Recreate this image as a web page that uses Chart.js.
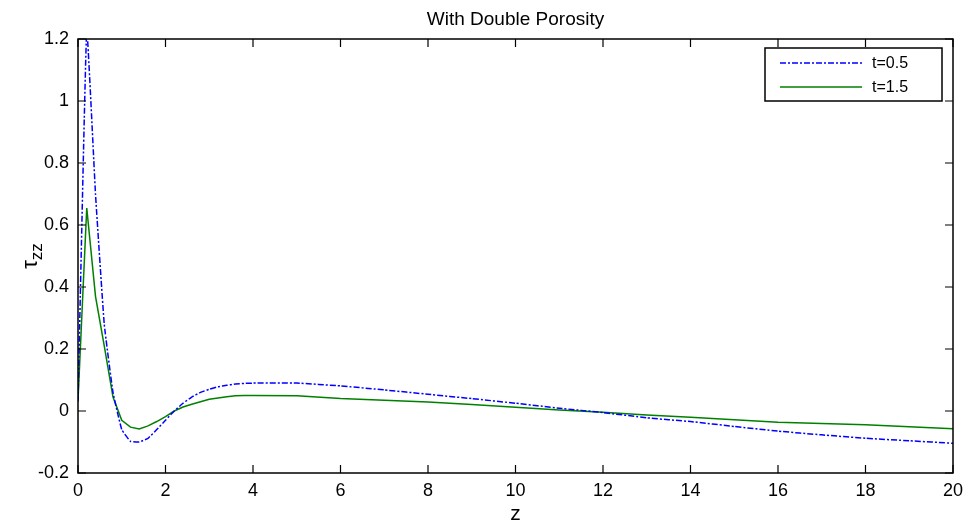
<!DOCTYPE html>
<html>
<head>
<meta charset="utf-8">
<script src="https://cdn.jsdelivr.net/npm/chart.js@4"></script>
<style>
  html, body { margin: 0; padding: 0; background: #fff; }
  #wrap { width: 979px; height: 528px; }
</style>
</head>
<body>
<div id="wrap"><canvas id="chart" width="979" height="528"></canvas></div>
<script>
// z positions and the two tau_zz series
zValues = [0, 0.2, 0.4, 0.6, 0.8, 1.0, 1.2, 1.4, 1.6, 1.8, 2.0, 2.2, 2.4, 2.6, 2.8, 3.0, 3.2, 3.4, 3.6, 3.8, 4, 5, 6, 7, 8, 9, 10, 11, 12, 13, 14, 15, 16, 17, 18, 19, 20]
tauT05 = [0.03, 1.23, 0.70, 0.28, 0.06, -0.06, -0.098, -0.10, -0.088, -0.06, -0.03, 0.0, 0.025, 0.045, 0.06, 0.07, 0.078, 0.083, 0.087, 0.089, 0.09, 0.09, 0.081, 0.068, 0.054, 0.040, 0.025, 0.009, -0.005, -0.022, -0.034, -0.05, -0.065, -0.077, -0.088, -0.096, -0.104]
tauT15 = [0.035, 0.655, 0.37, 0.21, 0.045, -0.03, -0.052, -0.058, -0.048, -0.034, -0.018, 0.0, 0.013, 0.022, 0.03, 0.038, 0.042, 0.046, 0.049, 0.05, 0.05, 0.049, 0.040, 0.035, 0.029, 0.021, 0.012, 0.003, -0.004, -0.013, -0.020, -0.028, -0.036, -0.04, -0.044, -0.051, -0.057]
seriesLabels = ['t=0.5', 't=1.5']
xTicks = [0, 2, 4, 6, 8, 10, 12, 14, 16, 18, 20]
yTicks = [-0.2, 0, 0.2, 0.4, 0.6, 0.8, 1.0, 1.2]

FONT = '"Liberation Sans", Arial, sans-serif'

function points(ys) {
  return zValues.map(function (z, i) { return { x: z, y: ys[i] } })
}

// draws the matlab style frame, inward ticks, title, axis labels and legend
matlabFrame = {
  id: 'matlabFrame',
  afterDraw: function (chart) {
    var ctx = chart.ctx
    var a = chart.chartArea
    var xs = chart.scales.x
    var ys = chart.scales.y
    ctx.save()
    ctx.strokeStyle = '#000'
    ctx.lineWidth = 1.5
    ctx.strokeRect(a.left, a.top, a.right - a.left, a.bottom - a.top)
    ctx.lineWidth = 1.2
    ctx.beginPath()
    xTicks.forEach(function (v) {
      var px = xs.getPixelForValue(v)
      ctx.moveTo(px, a.bottom); ctx.lineTo(px, a.bottom - 8)
      ctx.moveTo(px, a.top); ctx.lineTo(px, a.top + 8)
    })
    yTicks.forEach(function (v) {
      var py = ys.getPixelForValue(v)
      ctx.moveTo(a.left, py); ctx.lineTo(a.left + 8, py)
      ctx.moveTo(a.right, py); ctx.lineTo(a.right - 8, py)
    })
    ctx.stroke()

    ctx.fillStyle = '#000'
    ctx.textAlign = 'center'
    ctx.textBaseline = 'middle'
    ctx.font = '19px ' + FONT
    ctx.fillText('With Double Porosity', (a.left + a.right) / 2, 20)
    ctx.font = '21px ' + FONT
    ctx.fillText('z', (a.left + a.right) / 2, 514)

    // y label: tau with zz subscript, rotated
    ctx.save()
    ctx.translate(32, (a.top + a.bottom) / 2)
    ctx.rotate(-Math.PI / 2)
    ctx.textAlign = 'left'
    ctx.textBaseline = 'alphabetic'
    ctx.font = '22px ' + FONT
    var tw = ctx.measureText('\u03c4').width
    ctx.font = '17px ' + FONT
    var sw = ctx.measureText('zz').width
    var start = -(tw + sw) / 2
    ctx.font = '22px ' + FONT
    ctx.fillText('\u03c4', start, 5)
    ctx.font = '17px ' + FONT
    ctx.fillText('zz', start + tw, 10)
    ctx.restore()

    // legend box
    var lx = 765, ly = 48, lw = 177, lh = 53
    ctx.fillStyle = '#fff'
    ctx.fillRect(lx, ly, lw, lh)
    ctx.lineWidth = 1.5
    ctx.strokeStyle = '#000'
    ctx.strokeRect(lx, ly, lw, lh)
    chart.data.datasets.forEach(function (ds, i) {
      var y = ly + 15 + i * 24
      ctx.strokeStyle = ds.borderColor
      ctx.lineWidth = ds.borderWidth
      ctx.setLineDash(ds.borderDash || [])
      ctx.beginPath()
      ctx.moveTo(lx + 15, y)
      ctx.lineTo(lx + 97, y)
      ctx.stroke()
      ctx.setLineDash([])
      ctx.fillStyle = '#000'
      ctx.font = '16px ' + FONT
      ctx.textAlign = 'left'
      ctx.textBaseline = 'middle'
      ctx.fillText(ds.label, lx + 107, y + 1)
    })
    ctx.restore()
  }
}

ctx = document.getElementById('chart').getContext('2d')
chart = new Chart(ctx, {
  type: 'line',
  data: {
    datasets: [{
      label: seriesLabels[0],
      data: points(tauT05),
      borderColor: 'rgb(0,0,255)',
      borderWidth: 1.5,
      borderDash: [6, 2, 2, 2],
      pointRadius: 0,
      tension: 0.1,
      fill: false
    }, {
      label: seriesLabels[1],
      data: points(tauT15),
      borderColor: 'rgb(0,128,0)',
      borderWidth: 1.5,
      pointRadius: 0,
      tension: 0,
      fill: false
    }]
  },
  options: {
    responsive: false,
    animation: false,
    layout: { padding: { top: 39, right: 26, left: 0, bottom: 0 } },
    plugins: { legend: { display: false }, title: { display: false }, tooltip: { enabled: false } },
    scales: {
      x: {
        type: 'linear',
        min: 0, max: 20,
        grid: { display: false, drawTicks: false },
        border: { display: false },
        afterBuildTicks: function (s) { s.ticks = xTicks.map(function (v) { return { value: v } }) },
        ticks: { color: '#000', font: { size: 18, family: FONT }, padding: 7, maxRotation: 0 },
        afterFit: function (s) { s.height = 55 }
      },
      y: {
        type: 'linear',
        min: -0.2, max: 1.2,
        grid: { display: false, drawTicks: false },
        border: { display: false },
        afterBuildTicks: function (s) { s.ticks = yTicks.map(function (v) { return { value: v } }) },
        ticks: {
          color: '#000', font: { size: 18, family: FONT }, padding: 9,
          callback: function (v) { return String(Math.round(v * 10) / 10) }
        },
        afterFit: function (s) { s.width = 78 }
      }
    }
  },
  plugins: [matlabFrame]
})
</script>
</body>
</html>
